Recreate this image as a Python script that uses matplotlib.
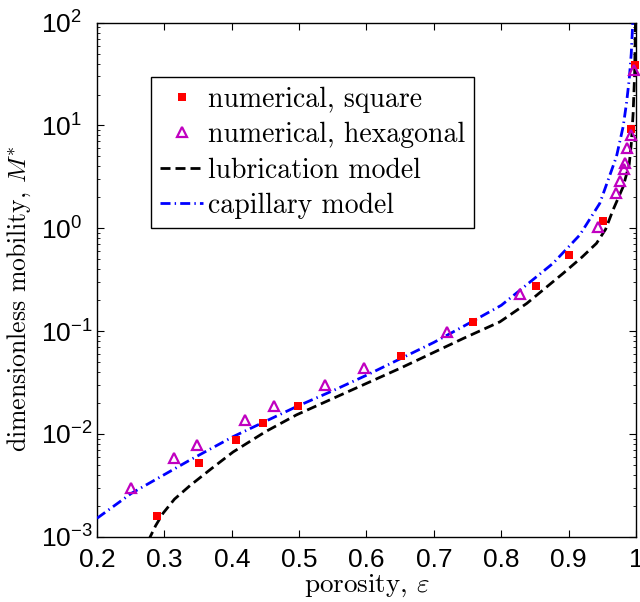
import matplotlib
matplotlib.use("Agg")
import matplotlib.pyplot as plt
from matplotlib.ticker import LogLocator, FixedFormatter, FixedLocator

# numerical results
square_x = [0.289, 0.351, 0.406, 0.446, 0.498, 0.651, 0.758, 0.851, 0.900, 0.951, 0.992, 0.998]
square_y = [1.59e-3, 5.2e-3, 8.7e-3, 1.28e-2, 1.88e-2, 5.7e-2, 0.123, 0.277, 0.546, 1.19, 9.2, 39.0]

hex_x = [0.251, 0.315, 0.349, 0.420, 0.463, 0.538, 0.597, 0.720, 0.828, 0.943,
         0.970, 0.977, 0.982, 0.984, 0.987, 0.992, 0.997]
hex_y = [3.0e-3, 5.8e-3, 7.8e-3, 1.36e-2, 1.87e-2, 3.0e-2, 4.4e-2, 0.098, 0.23, 1.02,
         2.19, 2.88, 3.75, 4.29, 6.0, 8.07, 34.7]

# model curves (sampled off the figure)
lub_x = [0.276, 0.287, 0.298, 0.315, 0.338, 0.370, 0.402, 0.450, 0.496, 0.556, 0.650,
         0.744, 0.798, 0.838, 0.892, 0.920, 0.9414, 0.955, 0.966, 0.981, 0.990, 0.993,
         0.9958, 0.998, 0.9995]
lub_y = [9.1e-4, 1.28e-3, 1.69e-3, 2.32e-3, 3.14e-3, 4.6e-3, 6.67e-3, 1.05e-2, 1.53e-2,
         2.30e-2, 4.35e-2, 8.5e-2, 0.123, 0.186, 0.365, 0.525, 0.714, 0.98, 1.51, 2.54,
         4.2, 6.6, 13.2, 31.6, 126.0]

cap_x = [0.200, 0.251, 0.338, 0.402, 0.496, 0.550, 0.600, 0.650, 0.700, 0.750, 0.800,
         0.8276, 0.877, 0.9166, 0.9463, 0.971, 0.981, 0.986, 0.990, 0.993, 0.995, 0.996]
cap_y = [1.51e-3, 2.64e-3, 5.57e-3, 9.4e-3, 1.84e-2, 2.63e-2, 3.72e-2, 5.37e-2, 7.76e-2,
         0.117, 0.178, 0.249, 0.457, 0.861, 1.75, 4.97, 9.77, 16.6, 28.2, 50.1, 93.3, 141.0]

x_ticks = [0.2, 0.3, 0.4, 0.5, 0.6, 0.7, 0.8, 0.9, 1.0]
x_ticklabels = ["0.2", "0.3", "0.4", "0.5", "0.6", "0.7", "0.8", "0.9", "1"]

plt.rcParams['mathtext.fontset'] = 'cm'
plt.rcParams['font.family'] = 'Liberation Sans'

fig = plt.figure(figsize=(6.4, 6.02), dpi=100)
ax = fig.add_axes([0.1516, 0.1085, 0.8421, 0.8538])

ax.plot(square_x, square_y, 's', color='#ff0000', markersize=5.2, markeredgewidth=0,
        label='numerical, square', clip_on=False, zorder=4)
ax.plot(hex_x, hex_y, '^', color='#c000c0', markerfacecolor='none', markersize=7.5,
        markeredgewidth=1.6, label='numerical, hexagonal', clip_on=False, zorder=5)
ax.plot(lub_x, lub_y, color='black', linewidth=2, dashes=(3.6, 1.8),
        label='lubrication model', zorder=3)
ax.plot(cap_x, cap_y, color='#0000ff', linewidth=2, dashes=(3.6, 1.5, 0.5, 1.5),
        label='capillary model', zorder=3)

ax.set_yscale('log')
ax.set_xlim(0.2, 1.0)
ax.set_ylim(1e-3, 1e2)
ax.xaxis.set_major_locator(FixedLocator(x_ticks))
ax.xaxis.set_major_formatter(FixedFormatter(x_ticklabels))
ax.yaxis.set_major_locator(LogLocator(base=10, numticks=10))
ax.yaxis.set_minor_locator(LogLocator(base=10, subs=range(2, 10), numticks=10))

ax.tick_params(which='both', direction='in', top=True, right=True, labelsize=19)
ax.tick_params(which='major', length=5, width=0.8)
ax.tick_params(which='minor', length=2.5, width=0.6)
ax.tick_params(axis='x', pad=8.5)
# MATLAB-style: exponent labels start at a common left edge
ax.tick_params(axis='y', pad=40.5)
for lab in ax.get_yticklabels():
    lab.set_horizontalalignment('left')
for s in ax.spines.values():
    s.set_linewidth(1.0)

ax.set_xlabel(r'porosity, $\varepsilon$', fontsize=19.5, family='cmr10')
ax.set_ylabel(r'dimensionless mobility, $M^{*}$', fontsize=18.5, family='cmr10')
ax.xaxis.set_label_coords(0.5, -0.07)
ax.yaxis.set_label_coords(-0.119, 0.464)

leg = ax.legend(loc='upper left', bbox_to_anchor=(150.7 / 640, 1 - 77.3 / 602),
                bbox_transform=fig.transFigure, borderaxespad=0,
                prop={'family': 'cmr10', 'size': 20}, fancybox=False,
                edgecolor='black', framealpha=1, handlelength=1.58,
                handletextpad=0.17, borderpad=0.32, labelspacing=0.33)
leg.get_frame().set_linewidth(1.0)

fig.savefig('out.png', dpi=100)
